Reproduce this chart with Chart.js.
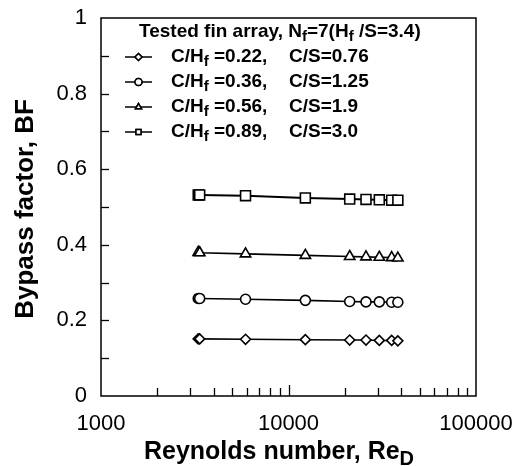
<!DOCTYPE html>
<html>
<head>
<meta charset="utf-8">
<script src="https://cdn.jsdelivr.net/npm/chart.js@4/dist/chart.umd.min.js"></script>
<style>
  html, body { margin: 0; padding: 0; background: #fff; }
  #wrap { width: 517px; height: 466px; }
</style>
</head>
<body>
<div id="wrap"><canvas id="c" width="517" height="466"></canvas></div>
<script>
// ---- Data ----
const reynolds = [3300, 3360, 5900, 12300, 21200, 25900, 30500, 35500, 38300];
const bfDiamond = [0.151, 0.151, 0.150, 0.149, 0.148, 0.148, 0.147, 0.147, 0.146];
const bfCircle = [0.258, 0.258, 0.256, 0.253, 0.250, 0.249, 0.249, 0.248, 0.248];
const bfTriangle = [0.380, 0.379, 0.376, 0.372, 0.369, 0.368, 0.367, 0.366, 0.365];
const bfSquare = [0.532, 0.532, 0.530, 0.524, 0.521, 0.520, 0.519, 0.518, 0.518];
const seriesRatioCH = ['0.22', '0.36', '0.56', '0.89'];
const seriesRatioCS = ['0.76', '1.25', '1.9', '3.0'];
const xTickLabels = [1000, 10000, 100000];
const yTickLabels = [0, 0.2, 0.4, 0.6, 0.8, 1];

const FONT = '"Liberation Sans", Arial, Helvetica, sans-serif';
const pointStyles = ['rectRot', 'circle', 'triangle', 'rect'];
const pointRadii = [5, 5, 6, 7];
const seriesValues = [bfDiamond, bfCircle, bfTriangle, bfSquare];

const datasets = seriesValues.map((vals, i) => ({
  label: 'C/Hf=' + seriesRatioCH[i] + ', C/S=' + seriesRatioCS[i],
  data: reynolds.map((x, j) => ({ x: x, y: vals[j] })),
  showLine: true,
  borderColor: '#000',
  borderWidth: i === 3 ? 2 : 1.6,
  backgroundColor: '#fff',
  pointStyle: pointStyles[i],
  pointRadius: pointRadii[i],
  pointBorderWidth: 1.6,
  pointBorderColor: '#000',
  pointBackgroundColor: '#fff',
  tension: 0
}));

function richWidth(ctx, parts, size) {
  let w = 0;
  parts.forEach(p => {
    ctx.font = 'bold ' + (p.sub ? Math.round(size * 0.78) : size) + 'px ' + FONT;
    w += ctx.measureText(p.t).width;
  });
  return w;
}
function drawRich(ctx, parts, x, y, size) {
  let cx = x;
  parts.forEach(p => {
    if (p.sub) {
      ctx.font = 'bold ' + Math.round(size * 0.78) + 'px ' + FONT;
      ctx.fillText(p.t, cx, y + size * 0.28);
    } else {
      ctx.font = 'bold ' + size + 'px ' + FONT;
      ctx.fillText(p.t, cx, y);
    }
    cx += ctx.measureText(p.t).width;
  });
  return cx;
}

const framePlugin = {
  id: 'frame',
  afterDraw(chart) {
    const ctx = chart.ctx;
    const a = chart.chartArea;
    const xs = chart.scales.x, ys = chart.scales.y;
    ctx.save();
    ctx.strokeStyle = '#000';
    ctx.lineWidth = 1.5;
    ctx.strokeRect(a.left, a.top, a.right - a.left, a.bottom - a.top);
    ctx.lineWidth = 1.3;
    // y ticks (inside, every 0.1)
    for (let k = 1; k < 10; k++) {
      const py = Math.round(ys.getPixelForValue(k / 10)) + 0.5;
      ctx.beginPath(); ctx.moveTo(a.left, py); ctx.lineTo(a.left + 8, py); ctx.stroke();
    }
    // x ticks (inside, log minor ticks)
    for (let dec = 1000; dec < 100000; dec *= 10) {
      for (let m = 1; m < 10; m++) {
        const v = dec * m;
        if (v <= 1000) continue;
        const px = Math.round(xs.getPixelForValue(v)) + 0.5;
        const len = m === 1 ? 11 : 8;
        ctx.beginPath(); ctx.moveTo(px, a.bottom); ctx.lineTo(px, a.bottom - len); ctx.stroke();
      }
    }
    ctx.fillStyle = '#000';
    // tick labels
    ctx.font = '22px ' + FONT;
    ctx.textBaseline = 'middle';
    ctx.textAlign = 'right';
    yTickLabels.forEach(v => {
      ctx.fillText(String(v), 87, ys.getPixelForValue(v));
    });
    ctx.textAlign = 'center';
    xTickLabels.forEach(v => {
      ctx.fillText(String(v), xs.getPixelForValue(v), 424);
    });
    // axis titles
    ctx.textAlign = 'left';
    const tsize = 25;
    const xtParts = [{ t: 'Reynolds number, Re' }, { t: 'D', sub: true }];
    const w = richWidth(ctx, xtParts, tsize);
    drawRich(ctx, xtParts, 279 - w / 2, 452, tsize);
    ctx.save();
    ctx.translate(26, 209);
    ctx.rotate(-Math.PI / 2);
    ctx.textAlign = 'center';
    ctx.font = 'bold 26px ' + FONT;
    ctx.fillText('Bypass factor, BF', 0, 0);
    ctx.restore();
    // legend
    const lsize = 19;
    ctx.textAlign = 'left';
    drawRich(ctx, [{ t: 'Tested fin array, N' }, { t: 'f', sub: true }, { t: '=7(H' }, { t: 'f', sub: true }, { t: ' /S=3.4)' }], 139, 32, lsize);
    const rows = [57, 82, 107, 132];
    rows.forEach((ry, i) => {
      ctx.lineWidth = 1.5;
      ctx.strokeStyle = '#000';
      ctx.beginPath(); ctx.moveTo(125, ry); ctx.lineTo(152, ry); ctx.stroke();
      Chart.helpers.drawPoint(ctx, { pointStyle: pointStyles[i], radius: 3.5, borderWidth: 1.3 }, 138.5, ry);
      ctx.fillStyle = '#fff';
      ctx.fill();
      ctx.stroke();
      ctx.fillStyle = '#000';
      drawRich(ctx, [{ t: 'C/H' }, { t: 'f', sub: true }, { t: ' =' + seriesRatioCH[i] + ',' }], 171, ry, lsize);
      drawRich(ctx, [{ t: 'C/S=' + seriesRatioCS[i] }], 289, ry, lsize);
    });
    ctx.restore();
  }
};

new Chart(document.getElementById('c'), {
  type: 'scatter',
  data: { datasets: datasets },
  plugins: [framePlugin],
  options: {
    responsive: false,
    devicePixelRatio: 1,
    animation: false,
    layout: { padding: { left: 0, right: 41, top: 18, bottom: 0 }, autoPadding: false },
    plugins: { legend: { display: false }, tooltip: { enabled: false } },
    scales: {
      x: {
        type: 'logarithmic',
        min: 1000, max: 100000,
        grid: { display: false, drawTicks: false },
        border: { display: false },
        afterBuildTicks(s) { s.ticks = xTickLabels.map(v => ({ value: v })); },
        afterFit(s) { s.height = 70; s.paddingLeft = 0; s.paddingRight = 0; },
        ticks: { display: false, padding: 0 }
      },
      y: {
        type: 'linear',
        min: 0, max: 1,
        grid: { display: false, drawTicks: false },
        border: { display: false },
        afterBuildTicks(s) { s.ticks = yTickLabels.map(v => ({ value: v })); },
        afterFit(s) { s.width = 101; s.paddingTop = 0; s.paddingBottom = 0; },
        ticks: { display: false, padding: 0 }
      }
    }
  }
});
</script>
</body>
</html>
